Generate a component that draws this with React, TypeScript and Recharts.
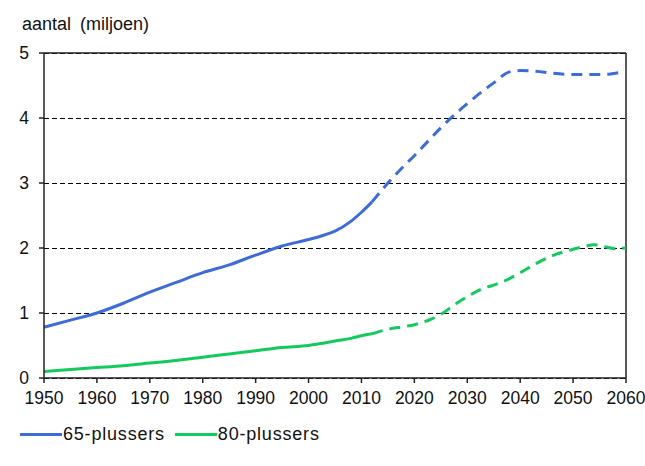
import {
  CartesianGrid,
  Line,
  LineChart,
  ReferenceLine,
  XAxis,
  YAxis,
} from "recharts";

const histYears = [1950, 1955, 1960, 1965, 1970, 1975, 1980, 1985, 1990, 1995, 2000, 2003, 2005, 2008, 2010, 2012];
const hist65 = [0.78, 0.89, 1.0, 1.15, 1.32, 1.47, 1.62, 1.74, 1.89, 2.03, 2.13, 2.2, 2.26, 2.41, 2.55, 2.71];
const hist80 = [0.1, 0.13, 0.16, 0.19, 0.23, 0.27, 0.32, 0.37, 0.42, 0.47, 0.5, 0.54, 0.57, 0.61, 0.65, 0.68];

const projYears = [2012, 2015, 2018, 2020, 2023, 2025, 2028, 2030, 2033, 2035, 2038, 2040, 2043, 2046, 2050, 2052, 2054, 2056, 2058, 2060];
const proj65 = [2.71, 3.0, 3.26, 3.42, 3.68, 3.85, 4.08, 4.22, 4.42, 4.54, 4.71, 4.73, 4.72, 4.69, 4.67, 4.67, 4.67, 4.67, 4.69, 4.71];
const proj80 = [0.68, 0.75, 0.79, 0.82, 0.9, 0.98, 1.15, 1.25, 1.38, 1.43, 1.53, 1.62, 1.76, 1.88, 1.98, 2.02, 2.05, 2.02, 1.99, 2.0];

const xTicks = [1950, 1960, 1970, 1980, 1990, 2000, 2010, 2020, 2030, 2040, 2050, 2060];
const yTicks = [0, 1, 2, 3, 4, 5];

const BLUE = "#3d6bd8";
const GREEN = "#14c95e";
const FONT = "'Liberation Sans', Arial, sans-serif";

const histData = histYears.map((year, i) => ({ year, p65: hist65[i], p80: hist80[i] }));
const projData = projYears.map((year, i) => ({ year, p65: proj65[i], p80: proj80[i] }));

const tickStyle = { fontSize: 17.5, fill: "#111", fontFamily: FONT };

function LegendItem({ color, label }: { color: string; label: string }) {
  return (
    <div style={{ display: "flex", alignItems: "center", marginRight: 10 }}>
      <div style={{ width: 42, height: 3, background: color }} />
      <span style={{ fontSize: 18, letterSpacing: 0.8, marginLeft: 1 }}>{label}</span>
    </div>
  );
}

export default function App() {
  return (
    <div
      style={{
        position: "absolute",
        left: 0,
        top: 0,
        width: 645,
        height: 466,
        background: "#fff",
        fontFamily: FONT,
        color: "#111",
      }}
    >
      <div style={{ position: "absolute", left: 22, top: 15, fontSize: 18, lineHeight: 1, wordSpacing: 4 }}>
        aantal (miljoen)
      </div>
      <LineChart
        width={645}
        height={466}
        margin={{ top: 53, right: 19, left: 0, bottom: 58 }}
      >
        <CartesianGrid
          vertical={false}
          stroke="#000"
          strokeDasharray="5 3"
          strokeWidth={1}
          shapeRendering="crispEdges"
        />
        <XAxis
          dataKey="year"
          type="number"
          domain={[1950, 2060]}
          ticks={xTicks}
          allowDuplicatedCategory={false}
          tick={tickStyle}
          tickSize={5}
          tickMargin={9}
          height={30}
          stroke="#222"
          strokeWidth={1.5}
          interval={0}
        />
        <YAxis
          type="number"
          domain={[0, 5]}
          ticks={yTicks}
          tick={tickStyle}
          tickSize={5}
          tickMargin={10}
          width={44}
          stroke="#222"
          strokeWidth={1.5}
        />
        <ReferenceLine y={5} stroke="#222" strokeWidth={1.5} />
        <ReferenceLine x={2060} stroke="#222" strokeWidth={1.5} />
        <Line
          data={histData}
          dataKey="p65"
          type="monotone"
          stroke={BLUE}
          strokeWidth={3}
          dot={false}
          isAnimationActive={false}
        />
        <Line
          data={projData}
          dataKey="p65"
          type="monotone"
          stroke={BLUE}
          strokeWidth={3}
          strokeDasharray="11 7"
          dot={false}
          isAnimationActive={false}
        />
        <Line
          data={histData}
          dataKey="p80"
          type="monotone"
          stroke={GREEN}
          strokeWidth={3}
          dot={false}
          isAnimationActive={false}
        />
        <Line
          data={projData}
          dataKey="p80"
          type="monotone"
          stroke={GREEN}
          strokeWidth={3}
          strokeDasharray="11 7"
          dot={false}
          isAnimationActive={false}
        />
      </LineChart>
      <div style={{ position: "absolute", left: 20, top: 424, display: "flex" }}>
        <LegendItem color={BLUE} label="65-plussers" />
        <LegendItem color={GREEN} label="80-plussers" />
      </div>
    </div>
  );
}
